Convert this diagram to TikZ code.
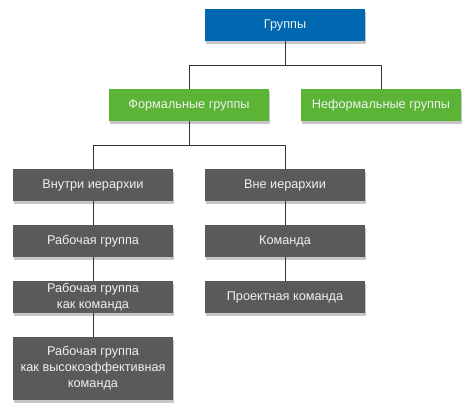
\documentclass[tikz,border=0pt]{standalone}
\usepackage{fontspec}
\setmainfont{Liberation Sans}
\usetikzlibrary{shadows}
\definecolor{cblue}{HTML}{0068B0}
\definecolor{cgreen}{HTML}{5BB436}
\definecolor{cgray}{HTML}{5A5A5A}
\definecolor{cline}{HTML}{333333}
\definecolor{ctext}{HTML}{F0F0F0}
\begin{document}
\begin{tikzpicture}[x=1pt,y=-1pt,
  box/.style={rectangle, minimum width=160pt, minimum height=32pt, inner sep=2pt,
    text=ctext, font=\fontsize{12.7}{16}\selectfont, align=center,
    drop shadow={opacity=0.45, shadow xshift=1pt, shadow yshift=-3pt}},
  bluebox/.style={box, fill=cblue},
  greenbox/.style={box, fill=cgreen},
  graybox/.style={box, fill=cgray},
  conn/.style={draw=cline, line width=1pt}]
\useasboundingbox (0,0) rectangle (474,418);
\node[bluebox] (root) at (285,25) {Группы};
\node[greenbox] (formal) at (189,105) {Формальные группы};
\node[greenbox] (informal) at (381,105) {Неформальные группы};
\node[graybox] (inside) at (93,185) {Внутри иерархии};
\node[graybox] (outside) at (285,185) {Вне иерархии};
\node[graybox] (wg) at (93,241) {Рабочая группа};
\node[graybox] (team) at (285,241) {Команда};
\node[graybox] (wgteam) at (93,297) {Рабочая группа\\как команда};
\node[graybox] (proj) at (285,297) {Проектная команда};
\node[graybox, minimum height=63pt] (wghigh) at (93,368.5) {Рабочая группа\\как высокоэффективная\\команда};
\coordinate (j1) at (285,65.5);
\coordinate (j2) at (189,145);
\draw[conn] (root.south) -- (j1);
\draw[conn] (j1) -| (formal.north);
\draw[conn] (j1) -| (informal.north);
\draw[conn] (formal.south) -- (j2);
\draw[conn] (j2) -| (inside.north);
\draw[conn] (j2) -| (outside.north);
\draw[conn] (inside) -- (wg);
\draw[conn] (wg) -- (wgteam);
\draw[conn] (wgteam) -- (wghigh);
\draw[conn] (outside) -- (team);
\draw[conn] (team) -- (proj);
\end{tikzpicture}
\end{document}
